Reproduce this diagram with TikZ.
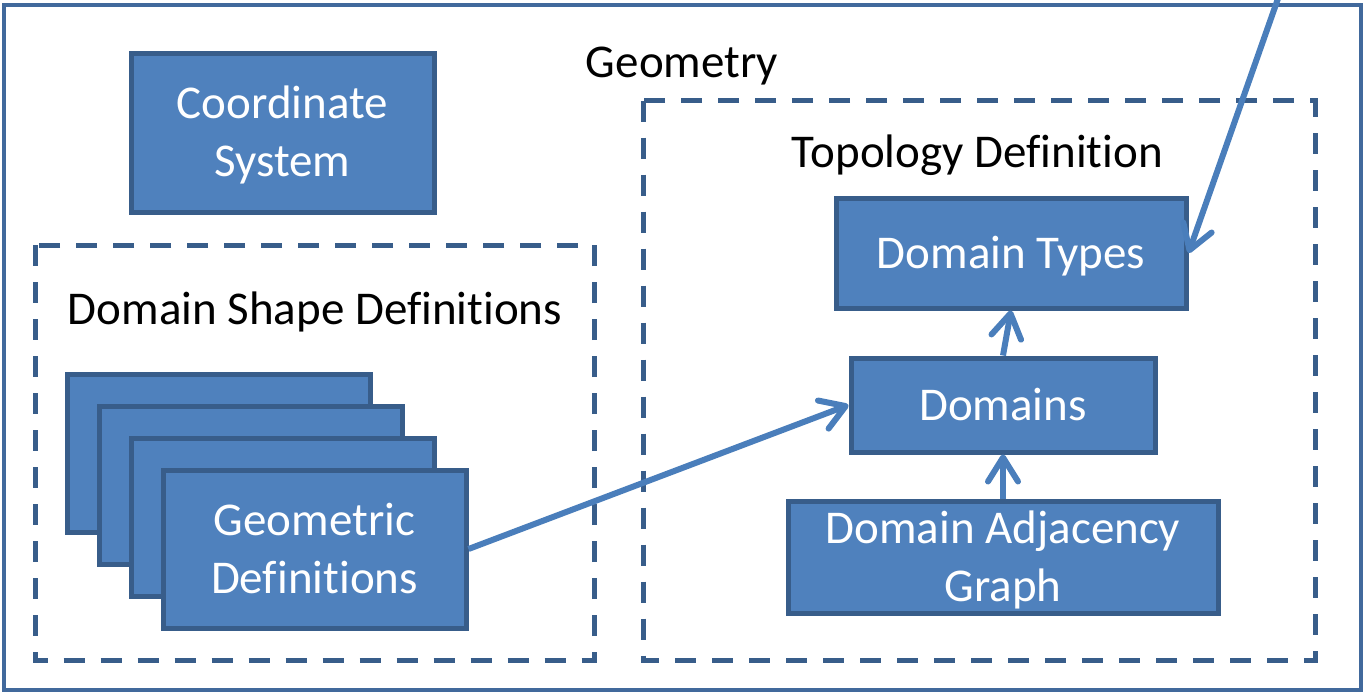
\documentclass[tikz,border=0pt]{standalone}
\usepackage{fontspec}
\setmainfont{Carlito}[Ligatures=NoCommon]
\usetikzlibrary{arrows.meta}
\definecolor{boxfill}{HTML}{4F81BD}
\definecolor{boxline}{HTML}{385D8A}
\definecolor{arrowblue}{HTML}{4A7EBB}
\definecolor{framecol}{HTML}{41699C}
% fixed line height and depth, so the text sits the same way in every block
\newcommand{\bs}{\rule[-11pt]{0pt}{52pt}}

\begin{document}
\begin{tikzpicture}[x=1pt,y=-1pt,
  bluebox/.style={draw=boxline, fill=boxfill, line width=5pt, text=white,
    inner sep=0pt, align=center, font=\fontsize{47}{58}\selectfont},
  dashregion/.style={draw=boxline, line width=5pt, dash pattern=on 21pt off 16pt},
  heading/.style={anchor=base, inner sep=0pt, text=black,
    font=\fontsize{47}{58}\selectfont},
  flow/.style={draw=arrowblue, line width=6pt,
    -{Straight Barb[length=24pt, width=30pt, round]}}
]
\path[use as bounding box] (0,0) rectangle (1364,691);
\clip (0,0) rectangle (1364,691);

% outer frame
\draw[framecol, line width=4pt] (3.5,5) rectangle (1361,689.5);

% dashed groups
\draw[dashregion] (35,245) rectangle (594,660.5);
\draw[dashregion] (643,100.5) rectangle (1315,660.5);

% group titles
\node[heading] (geom) at (682,77) {Geometry};
\node[heading] (topo) at (977.5,167) {Topology Definition};
\node[heading] (shape) at (315,324) {Domain Shape Definitions};

% blocks
\node[bluebox, minimum width=303pt, minimum height=159pt] (cs) at (282.5,132.5) {\bs Coordinate\\System\bs};

\node[bluebox, minimum width=303pt, minimum height=158pt] (g1) at (218.5,453) {};
\node[bluebox, minimum width=303pt, minimum height=158pt] (g2) at (250.5,485) {};
\node[bluebox, minimum width=303pt, minimum height=158pt] (g3) at (282.5,517) {};
\node[bluebox, minimum width=303pt, minimum height=158pt] (g4) at (314.5,549) {\bs Geometric\\Definitions\bs};

\node[bluebox, minimum width=350pt, minimum height=110pt] (dt) at (1011,253) {\bs Domain Types};
\node[bluebox, minimum width=304pt, minimum height=94pt] (dom) at (1003,405) {\bs Domains};
\node[bluebox, minimum width=430pt, minimum height=112pt] (dag) at (1003,557) {\bs Domain Adjacency\\Graph\bs};

% incoming link from outside the frame
\coordinate (ext) at (1281,-10);

% links
\draw[flow] (g4.east) -- (dom.west);
\draw[flow] (dom.north) -- (dt.south);
\draw[flow] (dag.north) -- (dom.south);
\draw[flow] (ext) -- (dt.east);
\end{tikzpicture}
\end{document}
